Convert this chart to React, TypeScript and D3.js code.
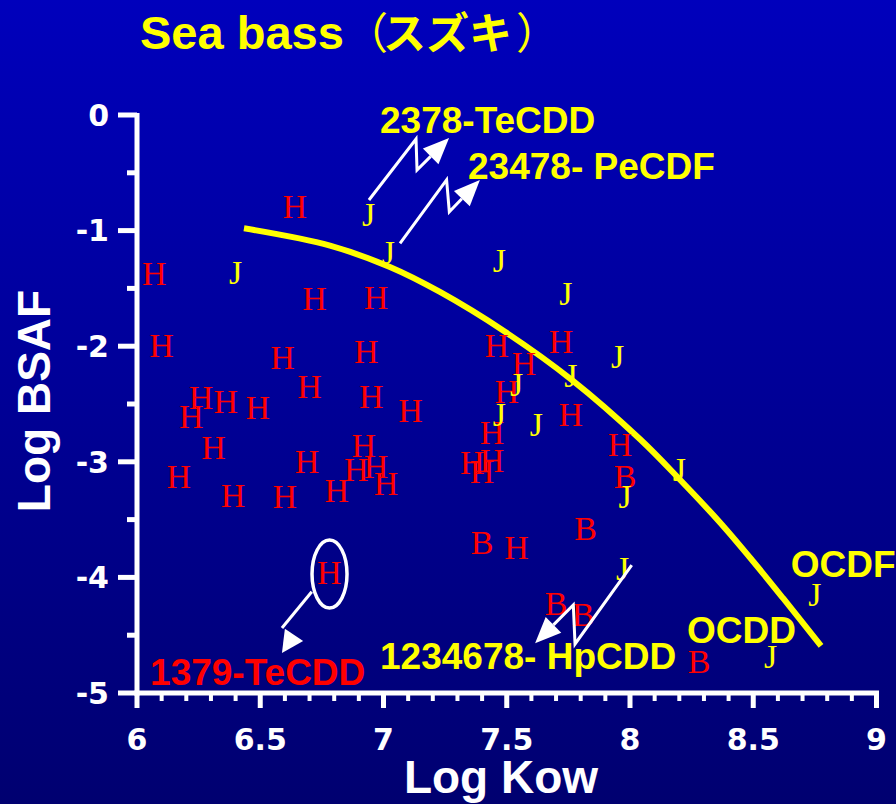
import React from "react";
import * as d3 from "d3";

const W = 896;
const HT = 804;

// Axis ticks
const xMajorTicks = [6, 6.5, 7, 7.5, 8, 8.5, 9];
const xTickLabels = ["6", "6.5", "7", "7.5", "8", "8.5", "9"];
const yMajorTicks = [0, -1, -2, -3, -4, -5];
const yTickLabels = ["0", "-1", "-2", "-3", "-4", "-5"];
const yMinorTicks = [-0.5, -1.5, -2.5, -3.5, -4.5];

// Series "H" (red)
const hPoints: [number, number][] = [
  [6.07, -1.37], [6.64, -0.79], [6.72, -1.59], [6.97, -1.58], [6.1, -2.0],
  [6.59, -2.1], [6.93, -2.05], [6.7, -2.35], [6.26, -2.45], [6.36, -2.48],
  [6.49, -2.53], [6.22, -2.61], [6.95, -2.44], [7.11, -2.56], [6.31, -2.88],
  [6.17, -3.13], [6.39, -3.29], [6.6, -3.3], [6.69, -3.0], [6.92, -2.86],
  [6.89, -3.07], [6.97, -3.04], [6.81, -3.25], [7.01, -3.19], [7.46, -2.0],
  [7.72, -1.96], [7.57, -2.15], [7.5, -2.39], [7.76, -2.59], [7.44, -2.75],
  [7.36, -3.01], [7.44, -2.99], [7.4, -3.09], [7.96, -2.85], [7.54, -3.74],
  [6.78, -3.96],
];

// Series "J" (yellow)
const jPoints: [number, number][] = [
  [6.4, -1.38], [6.94, -0.88], [7.02, -1.21], [7.47, -1.28], [7.74, -1.56],
  [7.95, -2.11], [7.76, -2.27], [7.54, -2.35], [7.47, -2.61], [7.62, -2.7],
  [8.2, -3.09], [7.98, -3.32], [7.97, -3.94], [8.75, -4.17], [8.57, -4.7],
];

// Series "B" (red)
const bPoints: [number, number][] = [
  [7.98, -3.13], [7.82, -3.58], [7.4, -3.7], [7.7, -4.23], [7.81, -4.32], [8.28, -4.73],
];

// Regression curve
const fitCurve: [number, number][] = [
  [6.434, -0.98], [6.783, -1.13], [7.026, -1.315], [7.229, -1.531], [7.493, -1.875],
  [7.765, -2.293], [8.041, -2.805], [8.203, -3.155], [8.366, -3.527],
  [8.499, -3.86], [8.621, -4.18], [8.775, -4.593],
];

// Annotation labels (anchored at data coordinates)
const labelTexts = ["2378-TeCDD", "23478- PeCDF", "1234678- HpCDD", "1379-TeCDD", "OCDD", "OCDF"];
const labelAnchors: [number, number][] = [
  [6.986, -0.156], [7.343, -0.554], [6.986, -4.792], [6.053, -4.931], [8.231, -4.567], [8.652, -3.997],
];
const labelColors = ["#FFFF00", "#FFFF00", "#FFFF00", "#FF0000", "#FFFF00", "#FFFF00"];

// Arrow paths (data coordinates); head = [base, tip]
const arrowLines: [number, number][][] = [
  [[6.941, -0.735], [7.132, -0.208], [7.136, -0.476]],
  [[7.067, -1.11], [7.256, -0.562], [7.267, -0.837]],
  [[8.007, -3.893], [7.777, -4.576], [7.77, -4.239]],
  [[6.709, -4.124], [6.588, -4.438]],
];
const arrowHeads: [number, number][][] = [
  [[7.136, -0.476], [7.266, -0.199]],
  [[7.267, -0.837], [7.391, -0.562]],
  [[7.77, -4.239], [7.615, -4.57]],
  [[6.637, -4.498], [6.588, -4.654]],
];
const circledPoint: [number, number] = [6.781, -3.971];

export default function App() {
  const x = d3.scaleLinear().domain([6, 9]).range([137, 876.5]);
  const y = d3.scaleLinear().domain([0, -5]).range([115, 693]);

  const xMinor = d3
    .range(60, 91)
    .map((v) => v / 10)
    .filter((v) => Math.abs(v * 2 - Math.round(v * 2)) > 1e-6);

  const line = d3
    .line<[number, number]>()
    .x((d) => x(d[0]))
    .y((d) => y(d[1]))
    .curve(d3.curveCatmullRom.alpha(0.5));

  const polyline = d3
    .line<[number, number]>()
    .x((d) => x(d[0]))
    .y((d) => y(d[1]));

  const headLen = 26;
  const headHalf = 11;

  const arrows = arrowLines.map((pts, i) => {
    const [b, t] = arrowHeads[i];
    const bx = x(b[0]), by = y(b[1]), tx = x(t[0]), ty = y(t[1]);
    const dx = tx - bx, dy = ty - by;
    const len = Math.hypot(dx, dy);
    const ux = dx / len, uy = dy / len;
    const L = Math.min(headLen, len);
    const cx = tx - ux * L, cy = ty - uy * L;
    const px = -uy * headHalf, py = ux * headHalf;
    const head = `M${tx},${ty}L${cx + px},${cy + py}L${cx - px},${cy - py}Z`;
    const last = pts[pts.length - 1];
    const joined = Math.abs(last[0] - b[0]) < 1e-9 && Math.abs(last[1] - b[1]) < 1e-9;
    let d = polyline(pts) || "";
    if (joined) d += `L${cx},${cy}`;
    return { d, head };
  });

  const serif = "'Liberation Serif', 'Times New Roman', serif";
  const sans = "'Liberation Sans', Arial, Helvetica, sans-serif";
  const tickFont = "'DejaVu Sans', sans-serif";
  const cjk = "'Noto Sans CJK JP', sans-serif";

  return (
    <svg
      width={W}
      height={HT}
      viewBox={`0 0 ${W} ${HT}`}
      style={{ position: "absolute", left: 0, top: 0, display: "block" }}
    >
      <defs>
        <linearGradient id="bg" x1="0" y1="0" x2="0" y2="1">
          <stop offset="0" stopColor="#0000BC" />
          <stop offset="1" stopColor="#000070" />
        </linearGradient>
      </defs>
      <rect x={0} y={0} width={W} height={HT} fill="url(#bg)" />

      {/* Title */}
      <text y={49} fill="#FFFF00">
        <tspan x={140} fontFamily={sans} fontWeight="bold" fontSize={47}>
          Sea bass
        </tspan>
        <tspan x={345} fontFamily={cjk} fontWeight="normal" fontSize={43}>
          （
        </tspan>
        <tspan x={383} fontFamily={cjk} fontWeight="bold" fontSize={43}>
          スズキ
        </tspan>
        <tspan x={516} fontFamily={cjk} fontWeight="normal" fontSize={43}>
          ）
        </tspan>
      </text>

      {/* Regression curve */}
      <path d={line(fitCurve) || ""} fill="none" stroke="#FFFF00" strokeWidth={6} />

      {/* Axes */}
      <g stroke="#FFFFFF" strokeWidth={5} fill="none">
        <line x1={x(6)} x2={x(6)} y1={y(0) - 2} y2={y(-5) + 2.5} />
        <line x1={x(6) - 2.5} x2={x(9) + 2.5} y1={y(-5)} y2={y(-5)} />
        {yMajorTicks.map((t) => (
          <line key={"ym" + t} x1={x(6) - 19} x2={x(6)} y1={y(t)} y2={y(t)} />
        ))}
        {yMinorTicks.map((t) => (
          <line key={"yn" + t} x1={x(6) - 10} x2={x(6)} y1={y(t)} y2={y(t)} />
        ))}
        {xMajorTicks.map((t) => (
          <line key={"xm" + t} x1={x(t)} x2={x(t)} y1={y(-5)} y2={y(-5) + 15} />
        ))}
        {xMinor.map((t) => (
          <line key={"xn" + t} x1={x(t)} x2={x(t)} y1={y(-5)} y2={y(-5) + 8} strokeWidth={4} />
        ))}
      </g>

      {/* Tick labels */}
      <g fill="#FFFFFF" fontFamily={tickFont} fontWeight="bold" fontSize={30}>
        {xMajorTicks.map((t, i) => (
          <text key={"xl" + t} x={x(t)} y={750} textAnchor="middle">
            {xTickLabels[i]}
          </text>
        ))}
        {yMajorTicks.map((t, i) => (
          <text key={"yl" + t} x={109} y={y(t)} dy="0.36em" textAnchor="end">
            {yTickLabels[i]}
          </text>
        ))}
      </g>

      {/* Axis titles */}
      <text x={501} y={793} textAnchor="middle" fill="#FFFFFF" fontFamily={sans} fontWeight="bold" fontSize={46}>
        Log Kow
      </text>
      <text
        transform="translate(50,401) rotate(-90)"
        textAnchor="middle"
        fill="#FFFFFF"
        fontFamily={sans}
        fontWeight="bold"
        fontSize={46}
      >
        Log BSAF
      </text>

      {/* Markers */}
      <g fontFamily={serif} fontSize={34} textAnchor="middle">
        {hPoints.map((p, i) => (
          <text key={"h" + i} x={x(p[0])} y={y(p[1])} dy="0.33em" fill="#FF0000">
            H
          </text>
        ))}
        {bPoints.map((p, i) => (
          <text key={"b" + i} x={x(p[0])} y={y(p[1])} dy="0.33em" fill="#FF0000">
            B
          </text>
        ))}
        {jPoints.map((p, i) => (
          <text key={"j" + i} x={x(p[0])} y={y(p[1])} dy="0.27em" fill="#FFFF00">
            J
          </text>
        ))}
      </g>

      {/* Circle around highlighted point */}
      <ellipse
        cx={x(circledPoint[0])}
        cy={y(circledPoint[1])}
        rx={17.5}
        ry={34}
        fill="none"
        stroke="#FFFFFF"
        strokeWidth={3.5}
      />

      {/* Arrows */}
      {arrows.map((a, i) => (
        <g key={"ar" + i}>
          <path d={a.d} fill="none" stroke="#FFFFFF" strokeWidth={3} />
          <path d={a.head} fill="#FFFFFF" />
        </g>
      ))}

      {/* Annotation labels */}
      <g fontFamily={sans} fontWeight="bold" fontSize={37}>
        {labelTexts.map((t, i) => (
          <text key={"lab" + i} x={x(labelAnchors[i][0])} y={y(labelAnchors[i][1])} fill={labelColors[i]}>
            {t}
          </text>
        ))}
      </g>
    </svg>
  );
}
